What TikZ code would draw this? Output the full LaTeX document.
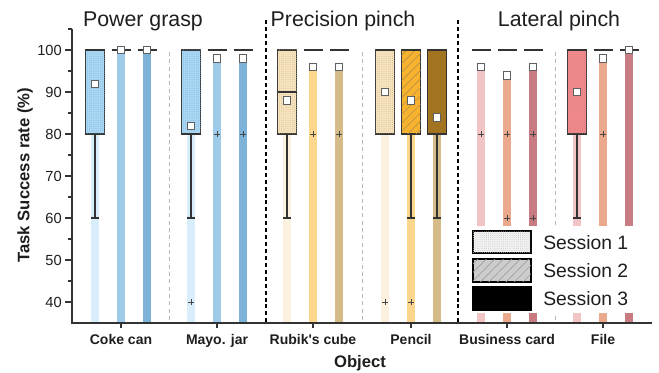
\documentclass[tikz,border=0pt]{standalone}
\usepackage{fontspec}
\setmainfont{Liberation Sans}
\usepackage{xcolor}
\usetikzlibrary{patterns.meta}

% power grasp
\definecolor{pwA}{HTML}{A9D7F4}
\definecolor{pwAbar}{HTML}{D9EEFB}
\definecolor{pwBbar}{HTML}{9DCBE9}
\definecolor{pwCbar}{HTML}{7DB3D8}
% precision pinch
\definecolor{prA}{HTML}{F6E3BF}
\definecolor{prAbar}{HTML}{FCF1DE}
\definecolor{prB}{HTML}{F8B32E}
\definecolor{prBbar}{HTML}{FCD68D}
\definecolor{prC}{HTML}{A3741F}
\definecolor{prCbar}{HTML}{D4BB88}
% lateral pinch
\definecolor{ltA}{HTML}{F28A8B}
\definecolor{ltAbar}{HTML}{F1C4C6}
\definecolor{ltBbar}{HTML}{EAA98C}
\definecolor{ltCbar}{HTML}{C87C82}
\definecolor{darkline}{HTML}{333333}
\definecolor{textdark}{HTML}{1E1E1E}

\begin{document}
\begin{tikzpicture}[x=0.75pt, y=3.15pt,
  boxline/.style={draw=darkline, line width=0.8pt},
  median/.style={draw=darkline, line width=1.7pt},
  whisker/.style={draw=darkline, line width=0.8pt},
  meanmark/.style={fill=white, draw=gray!75!black, line width=0.5pt},
  outlier/.style={draw=gray!55!black, line width=0.4pt},
  dotfill/.style={postaction={pattern={Dots[radius=0.35pt, distance=1.6pt]}, pattern color=#1}},
  sep/.style={draw=gray!55, dash pattern=on 3pt off 2.5pt, line width=0.5pt},
  groupsep/.style={draw=black, dash pattern=on 3pt off 2.2pt, line width=1.1pt},
  axisline/.style={draw=darkline, line width=1.1pt},
  grouptitle/.style={font=\fontsize{16}{19}\selectfont, text=textdark, anchor=base},
  ticklab/.style={font=\fontsize{11}{13}\selectfont, text=textdark, anchor=east, inner sep=0pt},
  catlab/.style={font=\bfseries\fontsize{10.5}{12}\selectfont, text=textdark, anchor=base},
  axistitle/.style={font=\bfseries\fontsize{12.5}{15}\selectfont, text=textdark},
  legendlab/.style={font=\fontsize{14.5}{17}\selectfont, text=textdark, anchor=base west, inner sep=0pt}]
  \useasboundingbox (0,23.333) rectangle (659,111.905);

  % parameters
  \def\ax{72}     % position of the value axis
  \def\base{35}   % lowest value on the axis
  \def\bw{9.5}    % half box width
  \def\hw{4}      % half bar width

  % x, mean, colour
  \def\meanbar#1#2#3{\fill[#3] ({#1-\hw},\base) rectangle ({#1+\hw},#2);}
  % x, fill options, median (boxes run 80 to 100)
  \def\qbox#1#2#3{\filldraw[boxline, #2] ({#1-\bw},80) rectangle ({#1+\bw},100);
    \draw[median] ({#1-\bw},#3) -- ({#1+\bw},#3);}
  % collapsed box, every run at 100
  \def\flatbox#1{\draw[median] ({#1-\bw},100) -- ({#1+\bw},100);}
  \def\whisk#1{\draw[whisker] (#1,80) -- (#1,60) ++(-4,0) -- ++(8,0);}
  \def\meanpt#1#2{\filldraw[meanmark] (#1,#2) ++(-2.8pt,-2.8pt) rectangle ++(5.6pt,5.6pt);}
  \def\outl#1#2{\draw[outlier] (#1,#2) ++(-2pt,0) -- ++(4pt,0) ++(-2pt,-2pt) -- ++(0,4pt);}

  % mean bars behind the boxes
  \meanbar{95}{92}{pwAbar}   \meanbar{121}{100}{pwBbar} \meanbar{147}{100}{pwCbar}
  \meanbar{191}{82}{pwAbar}  \meanbar{217}{98}{pwBbar}  \meanbar{243}{98}{pwCbar}
  \meanbar{287}{88}{prAbar}  \meanbar{313}{96}{prBbar}  \meanbar{339}{96}{prCbar}
  \meanbar{385}{90}{prAbar}  \meanbar{411}{88}{prBbar}  \meanbar{437}{84}{prCbar}
  \meanbar{481}{96}{ltAbar}  \meanbar{507}{94}{ltBbar}  \meanbar{533}{96}{ltCbar}
  \meanbar{577}{90}{ltAbar}  \meanbar{603}{98}{ltBbar}  \meanbar{629}{100}{ltCbar}

  % thin separators between objects
  \draw[sep] (169,99.5) -- (169,\base);
  \draw[sep] (362,99.5) -- (362,\base);
  \draw[sep] (555,99.5) -- (555,\base);

  % coke can
  \whisk{95}
  \qbox{95}{fill=pwA, dotfill=pwCbar}{100}
  \flatbox{121} \flatbox{147}
  \meanpt{95}{92} \meanpt{121}{100} \meanpt{147}{100}

  % mayo. jar
  \whisk{191}
  \qbox{191}{fill=pwA, dotfill=pwCbar}{80}
  \flatbox{217} \flatbox{243}
  \outl{191}{40} \outl{217}{80} \outl{243}{80}
  \meanpt{191}{82} \meanpt{217}{98} \meanpt{243}{98}

  % rubik's cube
  \whisk{287}
  \qbox{287}{fill=prA, dotfill=prCbar}{90}
  \flatbox{313} \flatbox{339}
  \outl{313}{80} \outl{339}{80}
  \meanpt{287}{88} \meanpt{313}{96} \meanpt{339}{96}

  % pencil
  \whisk{411} \whisk{437}
  \qbox{385}{fill=prA, dotfill=prCbar}{100}
  \qbox{411}{fill=prB, postaction={pattern={Lines[angle=45, distance=4.5pt, line width=0.5pt]}, pattern color=prC!80}}{100}
  \qbox{437}{fill=prC}{80}
  \outl{385}{40} \outl{411}{40}
  \meanpt{385}{90} \meanpt{411}{88} \meanpt{437}{84}

  % business card
  \flatbox{481} \flatbox{507} \flatbox{533}
  \outl{481}{80} \outl{507}{80} \outl{533}{80}
  \outl{507}{60} \outl{533}{60}
  \meanpt{481}{96} \meanpt{507}{94} \meanpt{533}{96}

  % file
  \whisk{577}
  \qbox{577}{fill=ltA, dotfill=ltCbar}{100}
  \flatbox{603} \flatbox{629}
  \outl{603}{80}
  \meanpt{577}{90} \meanpt{603}{98} \meanpt{629}{100}

  % dashed lines between grip types
  \draw[groupsep] (266,107.1) -- (266,\base);
  \draw[groupsep] (458,107.1) -- (458,\base);

  % legend, on white so the bars stop behind it
  \fill[white] (462,58.1) rectangle (652,37.5);
  \filldraw[draw=black, line width=1.1pt, fill=gray!10, dotfill=gray!50]
    (473,56.9) rectangle (531,51.7);
  \filldraw[draw=black, line width=1.1pt, fill=gray!40,
    postaction={pattern={Lines[angle=45, distance=4.5pt, line width=0.5pt]}, pattern color=gray!75}]
    (473,50.2) rectangle (531,44.8);
  \filldraw[draw=black, line width=1.1pt, fill=black] (473,43.6) rectangle (531,38.1);
  \node[legendlab] (ses1) at (543,52.6) {Session 1};
  \node[legendlab] (ses2) at (543,45.9) {Session 2};
  \node[legendlab] (ses3) at (543,39.2) {Session 3};

  % axes
  \draw[axisline] (\ax,105) -- (\ax,\base) -- (652,\base);
  \foreach \v in {40,50,...,100}{
    \draw[axisline] (\ax,\v) -- ++(-7,0);
    \node[ticklab] (y\v) at (\ax-10,\v) {\v};
  }
  \foreach \v in {45,55,...,105}
    \draw[axisline] (\ax,\v) -- ++(-4,0);
  \foreach \c in {121,217,313,411,507,603}
    \draw[axisline] (\c,\base) -- ++(0,-1.3);

  % labels
  \node[catlab] (coke) at (121,29.8) {Coke can};
  \node[catlab] (mayo) at (217,29.8) {Mayo. jar};
  \node[catlab] (rubik) at (313,29.8) {Rubik\textquotesingle s cube};
  \node[catlab] (pencil) at (411,29.8) {Pencil};
  \node[catlab] (card) at (507,29.8) {Business card};
  \node[catlab] (file) at (603,29.8) {File};
  \node[axistitle, anchor=base] (xlab) at (360,24.3) {Object};
  \node[axistitle, rotate=90] (ylab) at (25,70.2) {Task Success rate (\%)};

  \node[grouptitle] (power) at (143,105.5) {Power grasp};
  \node[grouptitle] (precision) at (343,105.5) {Precision pinch};
  \node[grouptitle] (lateral) at (559,105.5) {Lateral pinch};
\end{tikzpicture}
\end{document}
